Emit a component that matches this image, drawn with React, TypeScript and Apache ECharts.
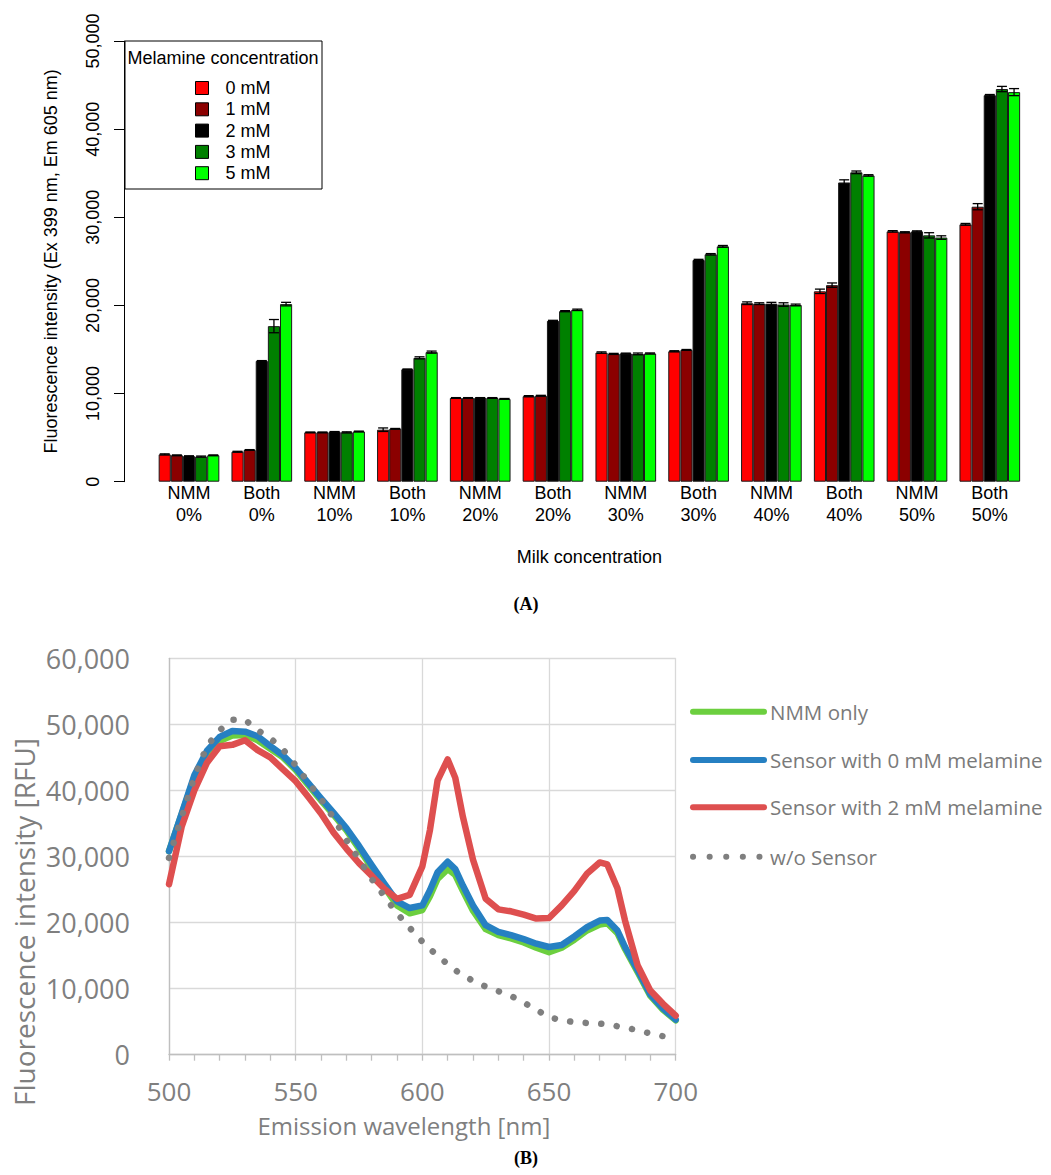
import React, { useEffect, useRef } from 'react';
import * as echarts from 'echarts';

// ---------- Panel A data ----------
const sampleType = ['NMM', 'Both', 'NMM', 'Both', 'NMM', 'Both', 'NMM', 'Both', 'NMM', 'Both', 'NMM', 'Both'];
const milkPct = ['0%', '0%', '10%', '10%', '20%', '20%', '30%', '30%', '40%', '40%', '50%', '50%'];
const melamineLevels = ['0 mM', '1 mM', '2 mM', '3 mM', '5 mM'];
const barColors = ['#FF0000', '#8B0000', '#000000', '#008000', '#00FF00'];

const mel0 = [3100, 3400, 5600, 5900, 9500, 9700, 14650, 14800, 20250, 21600, 28400, 29200];
const mel1 = [3000, 3600, 5600, 6000, 9500, 9750, 14500, 14950, 20200, 22300, 28300, 31200];
const mel2 = [2900, 13700, 5650, 12750, 9500, 18250, 14550, 25150, 20200, 33950, 28400, 43850];
const mel3 = [2850, 17650, 5600, 14050, 9500, 19350, 14500, 25800, 20100, 35100, 27950, 44550];
const mel5 = [3000, 20150, 5700, 14700, 9400, 19500, 14550, 26700, 20050, 34750, 27700, 44200];

const err0 = [60, 50, 40, 200, 40, 60, 80, 60, 150, 250, 80, 100];
const err1 = [40, 40, 40, 40, 40, 50, 60, 50, 100, 250, 60, 350];
const err2 = [40, 40, 40, 40, 40, 60, 40, 80, 150, 300, 60, 80];
const err3 = [60, 750, 60, 120, 40, 60, 100, 80, 200, 150, 300, 300];
const err5 = [40, 200, 40, 120, 40, 80, 60, 100, 100, 80, 200, 400];

const yTicksA = [0, 10000, 20000, 30000, 40000, 50000];

// ---------- Panel B data ----------
const wavelengths = [500, 505, 510, 515, 520, 525, 530, 535, 540, 545, 550, 555, 560, 565, 570, 575, 580, 585, 590, 595, 600, 603, 606, 610, 613, 616, 620, 625, 630, 635, 640, 645, 650, 655, 660, 665, 670, 673, 677, 680, 685, 690, 695, 700];
const nmmOnly = [30800, 36400, 42000, 45600, 47500, 48300, 48400, 47600, 46300, 45000, 43100, 40800, 38500, 36300, 34000, 31200, 28300, 25400, 22600, 21400, 21900, 24000, 26600, 28100, 27200, 24800, 21800, 19000, 18100, 17600, 17000, 16200, 15500, 16200, 17400, 18800, 19700, 19900, 18400, 16000, 12500, 8900, 6800, 5200];
const sensor0 = [30800, 36500, 42300, 46000, 48100, 49000, 48900, 48200, 46700, 45300, 43400, 41100, 38800, 36600, 34300, 31600, 28700, 25900, 23200, 22200, 22600, 24900, 27600, 29200, 28100, 25600, 22600, 19600, 18600, 18100, 17500, 16800, 16300, 16600, 17900, 19300, 20300, 20400, 18800, 16300, 12800, 9100, 7000, 5300];
const sensor2 = [25800, 34500, 40000, 44200, 46700, 46900, 47600, 46100, 45000, 43200, 41400, 39000, 36500, 33600, 31200, 29000, 27100, 25100, 23600, 24200, 28500, 34000, 41500, 44700, 41900, 36000, 29500, 23600, 22000, 21700, 21200, 20600, 20700, 22600, 24800, 27400, 29100, 28800, 25200, 20300, 13500, 9700, 7700, 5900];
const noSensor = [29800, 36000, 42000, 46700, 49100, 50700, 50700, 49100, 47900, 46200, 43800, 41200, 38700, 35800, 32500, 29600, 26600, 24000, 21400, 19200, 17100, 16000, 15000, 13700, 12800, 12000, 11200, 10300, 9600, 8900, 7900, 6800, 5700, 5200, 4950, 4800, 4700, 4600, 4300, 4100, 3700, 3200, 2800, 2500];

const lineNames = ['NMM only', 'Sensor with 0 mM melamine', 'Sensor with 2 mM melamine', 'w/o Sensor'];
const lineColors = ['#6CCF3F', '#2680C2', '#DE4F4F', '#7F7F7F'];

const fmt = (v: number) => v.toLocaleString('en-US');

export default function App() {
  const ref = useRef<HTMLDivElement>(null);
  useEffect(() => {
    document.body.style.margin = '0';
    const chart = echarts.init(ref.current!, null, { renderer: 'svg' });
    const barSeriesData = [mel0, mel1, mel2, mel3, mel5];
    const errData = [err0, err1, err2, err3, err5];
    const categories = sampleType.map((t, i) => t + '\n' + milkPct[i]);
    const errItems: number[][] = [];
    barSeriesData.forEach((arr, s) => arr.forEach((v, i) => errItems.push([i, v, errData[s][i], s])));
    const lineData = [nmmOnly, sensor0, sensor2, noSensor];
    const fA = 'Liberation Sans, Arial, sans-serif';
    const fB = 'Open Sans, sans-serif';
    const legendRowsB = [711.7, 760, 807.3, 856.7];

    const graphics: any[] = [
      { type: 'rect', shape: { x: 125, y: 41, width: 197, height: 148 }, style: { fill: '#fff', stroke: '#000', lineWidth: 1 }, z: 1 },
      { type: 'text', x: 223, y: 58, style: { text: 'Melamine concentration', fontSize: 18, fontFamily: fA, fill: '#000', align: 'center', verticalAlign: 'middle' }, z: 5 },
      { type: 'text', x: 526, y: 604, style: { text: '(A)', fontSize: 18, fontWeight: 'bold', fontFamily: 'Liberation Serif, serif', fill: '#000', align: 'center', verticalAlign: 'middle' } },
      { type: 'text', x: 526, y: 1158, style: { text: '(B)', fontSize: 18, fontWeight: 'bold', fontFamily: 'Liberation Serif, serif', fill: '#000', align: 'center', verticalAlign: 'middle' } },
      { type: 'text', x: 24, y: 922, rotation: Math.PI / 2, style: { text: 'Fluorescence intensity [RFU]', fontSize: 28, fontFamily: fB, fill: '#7F7F7F', align: 'center', verticalAlign: 'middle' } },
    ];
    lineNames.forEach((n, i) => {
      const dotted = i === 3;
      graphics.push({
        type: 'line', shape: { x1: 693, y1: legendRowsB[i], x2: 764, y2: legendRowsB[i] },
        style: { stroke: lineColors[i], lineWidth: 6, lineCap: 'round', lineDash: dotted ? [0.1, 16.5] : null },
      });
      graphics.push({
        type: 'text', x: 770, y: legendRowsB[i],
        style: { text: n, fontSize: 20.5, fontFamily: fB, fill: '#7A7A7A', align: 'left', verticalAlign: 'middle' },
      });
    });

    const option: any = {
      animation: false,
      backgroundColor: '#fff',
      grid: [
        { left: 152.6, width: 873.6, top: 41, height: 440.7 },
        { left: 169, width: 506.7, top: 658.3, height: 396.4 },
      ],
      legend: {
        data: melamineLevels,
        orient: 'vertical', left: 190, top: 74, itemWidth: 13, itemHeight: 13, itemGap: 3.3,
        icon: 'rect', z: 6,
        itemStyle: { borderColor: '#000', borderWidth: 1 },
        textStyle: { fontSize: 18, lineHeight: 18, fontFamily: fA, color: '#000', padding: [0, 0, 0, 12] },
      },
      xAxis: [
        {
          type: 'category', gridIndex: 0, data: categories,
          axisLine: { show: false }, axisTick: { show: false },
          axisLabel: { fontSize: 18, lineHeight: 22, color: '#000', fontFamily: fA, margin: 0, interval: 0 },
          name: 'Milk concentration', nameLocation: 'middle', nameGap: 66,
          nameTextStyle: { fontSize: 18, color: '#000', fontFamily: fA },
        },
        {
          type: 'value', gridIndex: 1, min: 500, max: 700, interval: 50,
          axisLine: { show: true, lineStyle: { color: '#BFBFBF', width: 1.3 } },
          axisTick: { show: true, length: 6, lineStyle: { color: '#BFBFBF', width: 1.3 } },
          minorTick: { show: true, splitNumber: 5, length: 6, lineStyle: { color: '#BFBFBF', width: 1.3 } },
          splitLine: { show: true, lineStyle: { color: '#D9D9D9', width: 1.3 } },
          axisLabel: { fontSize: 26, lineHeight: 25, color: '#7F7F7F', fontFamily: fB, margin: 24 },
          name: 'Emission wavelength [nm]', nameLocation: 'middle', nameGap: 59,
          nameTextStyle: { fontSize: 24, lineHeight: 24, color: '#7F7F7F', fontFamily: fB, padding: [0, 37, 0, 0] },
        },
      ],
      yAxis: [
        {
          type: 'value', gridIndex: 0, min: yTicksA[0], max: yTicksA[yTicksA.length - 1], interval: 10000, offset: 28.6,
          axisLine: { show: true, lineStyle: { color: '#000', width: 1 } },
          axisTick: { show: true, length: 10, lineStyle: { color: '#000', width: 1 } },
          splitLine: { show: false },
          axisLabel: { rotate: 90, fontSize: 18, color: '#000', fontFamily: fA, margin: 22, formatter: fmt },
          name: 'Fluorescence intensity (Ex 399 nm, Em 605 nm)', nameLocation: 'middle', nameRotate: 90, nameGap: 64,
          nameTextStyle: { fontSize: 18, color: '#000', fontFamily: fA },
        },
        {
          type: 'value', gridIndex: 1, min: 0, max: 60000, interval: 10000,
          axisLine: { show: true, lineStyle: { color: '#BFBFBF', width: 1.3 } },
          axisTick: { show: false },
          splitLine: { show: true, lineStyle: { color: '#D9D9D9', width: 1.3 } },
          axisLabel: { fontSize: 27, color: '#7F7F7F', fontFamily: fB, margin: 39, formatter: fmt },
        },
      ],
      series: [
        ...barSeriesData.map((arr, s) => ({
          type: 'bar', name: melamineLevels[s], xAxisIndex: 0, yAxisIndex: 0, data: arr,
          barGap: '0%', barCategoryGap: '16.667%',
          itemStyle: { color: barColors[s], borderColor: '#1a1a1a', borderWidth: 1 },
        })),
        {
          type: 'custom', xAxisIndex: 0, yAxisIndex: 0, data: errItems, z: 3,
          encode: { x: 0, y: 1 },
          renderItem: (params: any, api: any) => {
            const ci = api.value(0), v = api.value(1), e = api.value(2), s = api.value(3);
            const bw = api.size([1, 0])[0] / 6;
            const c = api.coord([ci, v]);
            const x = c[0] + (s - 2) * bw;
            const yT = api.coord([ci, v + e])[1];
            const yB = api.coord([ci, v - e])[1];
            const hw = 5;
            const st = { stroke: '#000', lineWidth: 1.3 };
            return {
              type: 'group', children: [
                { type: 'line', shape: { x1: x, y1: yT, x2: x, y2: yB }, style: st },
                { type: 'line', shape: { x1: x - hw, y1: yT, x2: x + hw, y2: yT }, style: st },
                { type: 'line', shape: { x1: x - hw, y1: yB, x2: x + hw, y2: yB }, style: st },
              ],
            };
          },
        },
        ...lineData.map((arr, i) => ({
          type: 'line', name: lineNames[i], xAxisIndex: 1, yAxisIndex: 1,
          data: wavelengths.map((w, k) => [w, arr[k]]),
          symbol: 'none', showSymbol: false, smooth: false,
          lineStyle: i === 3
            ? { color: lineColors[i], width: 6.5, type: [0.1, 15.5], cap: 'round', join: 'round' }
            : { color: lineColors[i], width: 6.5, cap: 'round', join: 'round' },
          z: 2 + i,
        })),
      ],
      graphic: graphics,
    };
    chart.setOption(option);
    return () => chart.dispose();
  }, []);
  return <div ref={ref} style={{ width: 1051, height: 1175 }} />;
}
